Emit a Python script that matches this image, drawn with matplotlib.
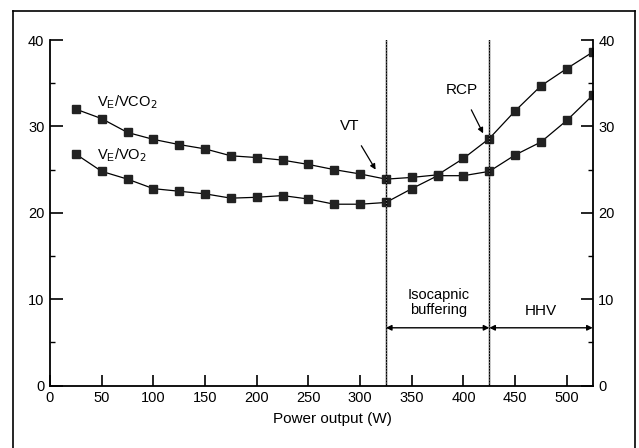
import matplotlib.pyplot as plt
from matplotlib.lines import Line2D

plt.rcParams['font.family'] = ['Liberation Sans', 'DejaVu Sans']

# power output (W) and ventilatory equivalents
power = [25, 50, 75, 100, 125, 150, 175, 200, 225, 250, 275, 300, 325,
         350, 375, 400, 425, 450, 475, 500, 525]
ve_vco2 = [32.0, 30.9, 29.3, 28.5, 27.9, 27.4, 26.6, 26.4, 26.1, 25.6, 25.0,
           24.5, 23.9, 24.1, 24.4, 26.3, 28.6, 31.8, 34.7, 36.7, 38.6]
ve_vo2 = [26.8, 24.8, 23.9, 22.8, 22.5, 22.2, 21.7, 21.8, 22.0, 21.6, 21.0,
          21.0, 21.2, 22.8, 24.3, 24.3, 24.8, 26.7, 28.2, 30.7, 33.6]
vt_power = 325
rcp_power = 425

fig = plt.figure(figsize=(6.39, 4.48), dpi=100)
fig.patch.set_facecolor('white')

# outer frame of the picture (bottom edge cut off)
fx0, fx1, fy1 = 13/639, 635/639, 1 - 11/448
for xs, ys in [([fx0, fx0], [0, fy1]), ([fx0, fx1], [fy1, fy1]), ([fx1, fx1], [0, fy1])]:
    fig.add_artist(Line2D(xs, ys, transform=fig.transFigure, color='black', lw=1.2))

ax = fig.add_axes([50/639, 1 - 385.7/448, 542.7/639, 345.7/448])
ax.set_facecolor('none')

ax.plot(power, ve_vco2, color='black', lw=0.9, marker='s', ms=5.5, mfc='#222222', mec='#222222')
ax.plot(power, ve_vo2, color='black', lw=0.9, marker='s', ms=5.5, mfc='#222222', mec='#222222')

ax.set_xlim(0, 525)
ax.set_ylim(0, 40)

ax.spines['top'].set_visible(False)
for side in ['left', 'bottom', 'right']:
    ax.spines[side].set_linewidth(1.3)

ax.set_xticks(range(0, 501, 50))
ax.set_yticks(range(0, 41, 10))
ax.set_yticks(range(5, 40, 10), minor=True)
ax.yaxis.set_ticks_position('both')
ax.tick_params(axis='y', which='major', direction='in', length=9, width=1.2,
               labelsize=10.5, labelright=True, pad=4)
ax.tick_params(axis='y', which='minor', direction='in', length=3.5, width=1.0)
ax.tick_params(axis='x', which='major', direction='in', length=8, width=1.2,
               labelsize=10.5, pad=4)
ax.set_xlabel('Power output (W)', fontsize=11)
ax.xaxis.set_label_coords(0.52, -0.075)

# threshold lines
for xv in [vt_power, rcp_power]:
    ax.axvline(xv, ymin=0, ymax=1, color='black', lw=1.0)
    ax.axvline(xv, ymin=0, ymax=1, color='#777777', lw=0.8, ls=':')

# series labels
ax.text(45, 32.8, r'V$\mathregular{_E}$/VCO$_2$', fontsize=10.5, va='center')
ax.text(45, 26.7, r'V$\mathregular{_E}$/VO$_2$', fontsize=10.5, va='center')

# threshold annotations
ax.annotate('VT', xy=(315, 25.0), xytext=(290, 30.0), fontsize=11, ha='center', va='center',
            arrowprops=dict(arrowstyle='-|>', color='black', lw=0.9, shrinkA=8, shrinkB=0,
                            mutation_scale=8))
ax.annotate('RCP', xy=(419, 29.2), xytext=(398, 34.2), fontsize=11, ha='center', va='center',
            arrowprops=dict(arrowstyle='-|>', color='black', lw=0.9, shrinkA=8, shrinkB=0,
                            mutation_scale=8))

# phase ranges
ax.annotate('', xy=(vt_power, 6.7), xytext=(rcp_power, 6.7),
            arrowprops=dict(arrowstyle='<|-|>', color='black', lw=1.0, shrinkA=0, shrinkB=0,
                            mutation_scale=8))
ax.annotate('', xy=(rcp_power, 6.7), xytext=(525, 6.7),
            arrowprops=dict(arrowstyle='<|-|>', color='black', lw=1.0, shrinkA=0, shrinkB=0,
                            mutation_scale=8))
ax.text(376, 9.6, 'Isocapnic\nbuffering', fontsize=10.5, ha='center', va='center', linespacing=1.1)
ax.text(475, 8.6, 'HHV', fontsize=11, ha='center', va='center')

fig.savefig('out.png', dpi=100)
